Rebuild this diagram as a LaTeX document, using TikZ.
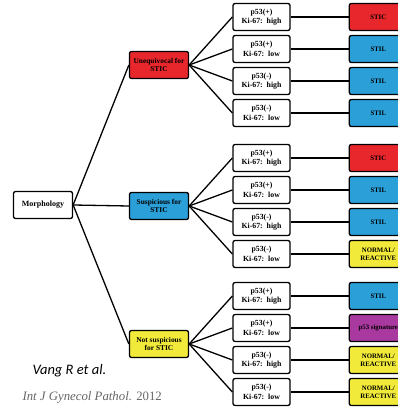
\documentclass[tikz,border=0pt]{standalone}
\usepackage{fontspec}
\setmainfont{Liberation Serif}
\newfontfamily\vangfont{Carlito}
\usepackage{tikz}
\usetikzlibrary{positioning}
\definecolor{sticred}{HTML}{E8272C}
\definecolor{stilblue}{HTML}{2A9FD8}
\definecolor{normyellow}{HTML}{F1EA3A}
\definecolor{sigpurple}{HTML}{A9389F}
\newcommand{\normrea}{NORMAL/\\REACTIVE}
\tikzset{
  box/.style={draw,rounded corners=2pt,line width=1.3pt,minimum width=57pt,
    minimum height=27pt,align=center,inner sep=1pt,
    font=\bfseries\fontsize{7.8}{9.5}\selectfont},
  group/.style={box,minimum width=59pt,font=\bfseries\fontsize{7.4}{8.5}\selectfont},
  res/.style={box,minimum width=58pt,font=\bfseries\fontsize{6.8}{8}\selectfont},
  link/.style={line width=1.3pt}
}
\begin{document}
\begin{tikzpicture}[x=1pt,y=1pt]
\useasboundingbox (0,0) rectangle (398,412);
\clip (0,0) rectangle (398,412);
% morphology and the three groups
\node[box,minimum width=59pt,font=\bfseries\fontsize{8}{9}\selectfont] (morph) at (43,207) {Morphology};
\node[group,fill=sticred] (uneq) at (159,347) {Unequivocal for\\STIC};
\node[group,fill=stilblue] (susp) at (159,206) {Suspicious for\\STIC};
\node[group,fill=normyellow] (nots) at (159,68) {Not suspicious\\for STIC};
\draw[link] (morph.east) -- (uneq.west);
\draw[link] (morph.east) -- (susp.west);
\draw[link] (morph.east) -- (nots.west);
% p53 / Ki-67 boxes
\foreach \g/\gy in {uneq/347,susp/206,nots/68}{
  \foreach \i/\dy/\a/\b in {1/48/+/high,2/16/+/low,3/-16/-/high,4/-48/-/low}{
    \node[box] (\g\i) at (261.5,\gy+\dy) {p53(\a)\\Ki-67:\ \ \b};
    \draw[link] (\g.east) -- (\g\i.west);
  }
}
% results
\foreach \n/\c/\t in {uneq1/sticred/STIC,uneq2/stilblue/STIL,uneq3/stilblue/STIL,
    uneq4/stilblue/STIL,susp1/sticred/STIC,susp2/stilblue/STIL,susp3/stilblue/STIL,
    susp4/normyellow/\normrea,nots1/stilblue/STIL,nots2/sigpurple/p53 signature,
    nots3/normyellow/\normrea,nots4/normyellow/\normrea}{
  \node[res,fill=\c,right=58pt of \n] (r\n) {\t};
  \draw[link] (\n.east) -- (r\n.west);
}
\node[anchor=west,font=\vangfont\itshape\fontsize{14.5}{16}\selectfont] (cite) at (29,41) {Vang R et al.};
\node[anchor=west,text=black!60,font=\fontsize{12.8}{14}\selectfont] (jrnl) at (19,15) {\textit{Int J Gynecol Pathol.} 2012};
\end{tikzpicture}
\end{document}
